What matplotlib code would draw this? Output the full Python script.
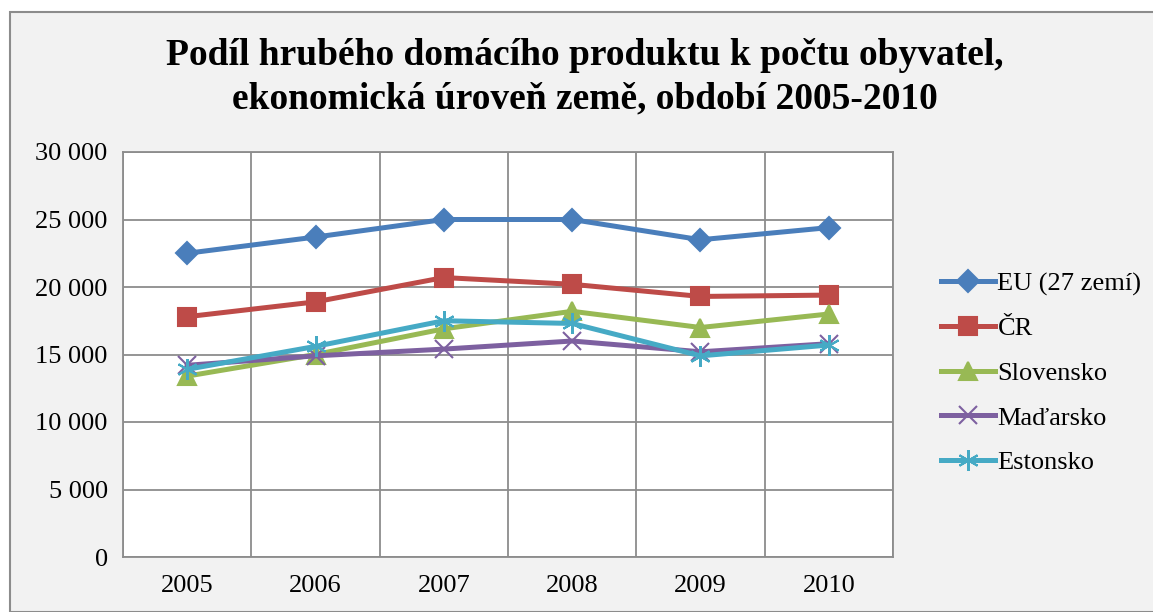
import matplotlib
matplotlib.use("Agg")
import matplotlib.pyplot as plt
from matplotlib.patches import Rectangle
from matplotlib.ticker import FuncFormatter, MultipleLocator

years = ["2005", "2006", "2007", "2008", "2009", "2010"]
eu = [22500, 23700, 25000, 25000, 23500, 24400]
cr = [17800, 18900, 20700, 20200, 19300, 19400]
sk = [13400, 15000, 16900, 18200, 17000, 18000]
hu = [14200, 14900, 15400, 16000, 15200, 15800]
ee = [13900, 15600, 17500, 17300, 14900, 15700]
labels = ["EU (27 zemí)", "ČR", "Slovensko", "Maďarsko", "Estonsko"]
title = "Podíl hrubého domácího produktu k počtu obyvatel,\nekonomická úroveň země, období 2005-2010"

plt.rcParams['font.family'] = ['Liberation Serif', 'DejaVu Serif']

fig = plt.figure(figsize=(11.53, 6.12), dpi=100)
fig.patch.set_facecolor("white")
W, H = 1153, 612
fig.patches.append(Rectangle((10 / W, 0), 1.2, 1 - 12 / H, transform=fig.transFigure,
                             facecolor="#f2f2f2", edgecolor="#8c8c8c", linewidth=1.5, zorder=-10))

ax = fig.add_axes([123 / W, 1 - 557 / H, (893 - 123) / W, (557 - 152) / H])
ax.set_facecolor("white")
x = list(range(len(years)))
series = [eu, cr, sk, hu, ee]
colors = ["#4a7ebb", "#be4b48", "#98b954", "#7d60a0", "#46aac5"]
markers = ["D", "s", "^", "x", (6, 2, 0)]
msizes = [11, 13, 13, 13, 15]
for s, c, m, ms, lab in zip(series, colors, markers, msizes, labels):
    ax.plot(x, s, color=c, linewidth=3.6, marker=m, markersize=ms,
            markeredgecolor=c, markerfacecolor=c, markeredgewidth=1.5,
            label=lab, solid_joinstyle="round", zorder=3)

ax.set_xlim(-0.5, len(years) - 0.5)
ax.set_ylim(0, 30000)
ax.set_xticks(x)
ax.set_xticklabels(years)
ax.set_xticks([i - 0.5 for i in range(len(years) + 1)], minor=True)
ax.yaxis.set_major_locator(MultipleLocator(5000))
ax.yaxis.set_major_formatter(FuncFormatter(lambda v, p: f"{int(v):,}".replace(",", " ")))
ax.grid(True, which="minor", axis="x", color="#8c8c8c", linewidth=1.3)
ax.grid(True, which="major", axis="y", color="#8c8c8c", linewidth=1.3)
ax.tick_params(axis="both", which="both", length=0, labelsize=19)
ax.tick_params(axis="x", pad=13)
ax.tick_params(axis="y", pad=11)
for sp in ax.spines.values():
    sp.set_color("#8c8c8c")
    sp.set_linewidth(1.3)

fig.text(0.5 + 8 / W, 1 - 77 / H, title, ha="center", va="center", fontsize=27,
         fontweight="bold", linespacing=1.32)

leg = ax.legend(loc="center left", bbox_to_anchor=(917 / W, 1 - 373 / H),
                bbox_transform=fig.transFigure, frameon=False, fontsize=19,
                handlelength=2.05, handletextpad=0.1, labelspacing=0.8)

fig.savefig("out.png", dpi=100, facecolor=fig.get_facecolor())
